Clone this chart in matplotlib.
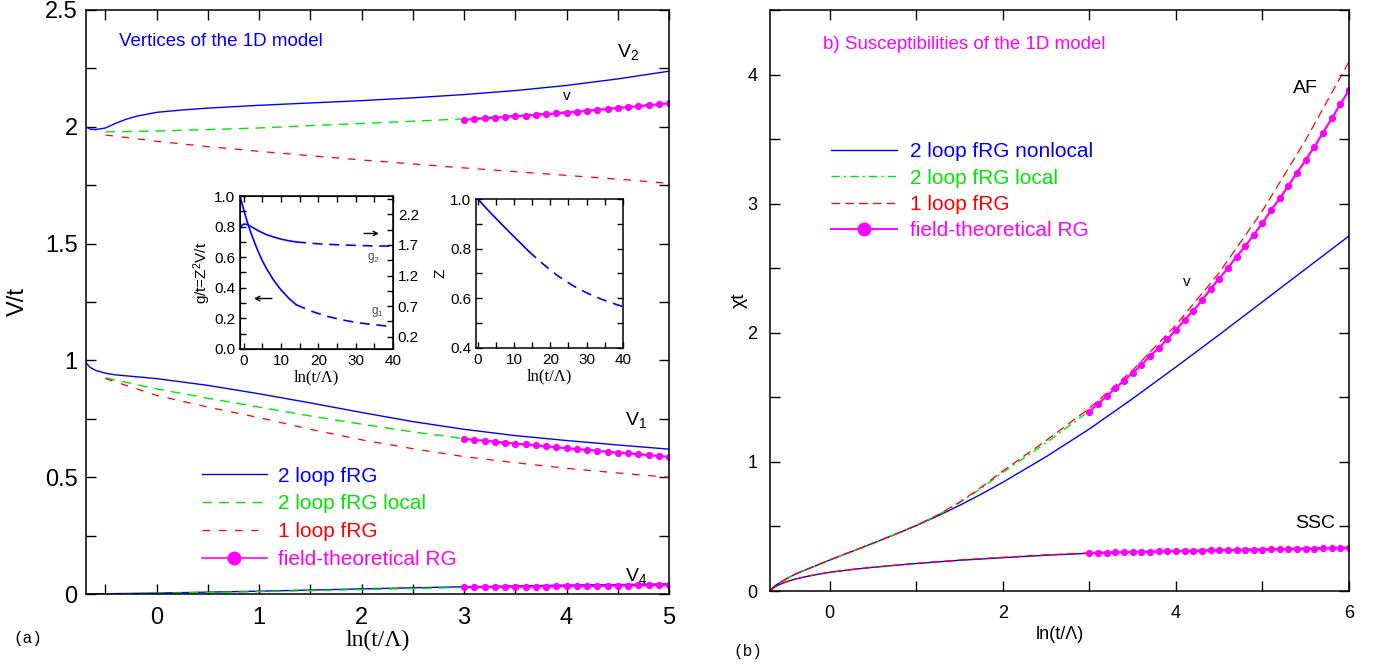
import matplotlib
matplotlib.use("Agg")
import matplotlib.pyplot as plt
from matplotlib.lines import Line2D
from matplotlib.ticker import MultipleLocator, FixedLocator, FormatStrFormatter

# ---------------- data: panel (a), vertices ----------------
x_v2_blue = [-0.69, -0.65, -0.6, -0.5, -0.4, -0.3, -0.2, 0.0, 0.25, 0.5, 1.0, 1.5, 2.0, 2.5, 3.0, 3.5, 4.0, 4.5, 5.0]
v2_blue = [2.00, 1.99, 1.988, 1.995, 2.015, 2.032, 2.045, 2.062, 2.072, 2.080, 2.092, 2.102, 2.112, 2.124, 2.138, 2.155, 2.177, 2.205, 2.238]
x_v2_dash = [-0.5, 0.0, 0.5, 1.0, 1.5, 2.0, 2.5, 3.0, 3.5, 4.0, 4.5, 5.0]
v2_green = [1.978, 1.982, 1.988, 1.995, 2.005, 2.014, 2.024, 2.034, 2.049, 2.064, 2.082, 2.102]
v2_red = [1.965, 1.938, 1.915, 1.895, 1.876, 1.858, 1.841, 1.824, 1.808, 1.792, 1.776, 1.758]

x_v1_blue = [-0.69, -0.65, -0.6, -0.5, -0.4, -0.2, 0.0, 0.5, 1.0, 1.5, 2.0, 2.5, 3.0, 3.5, 4.0, 4.5, 5.0]
v1_blue = [0.99, 0.97, 0.958, 0.945, 0.938, 0.930, 0.922, 0.893, 0.857, 0.818, 0.777, 0.738, 0.705, 0.678, 0.657, 0.638, 0.620]
x_v1_dash = [-0.5, 0.0, 0.5, 1.0, 1.5, 2.0, 2.5, 3.0, 3.5, 4.0, 4.5, 5.0]
v1_green = [0.925, 0.878, 0.838, 0.800, 0.762, 0.727, 0.694, 0.665, 0.645, 0.625, 0.606, 0.587]
v1_red = [0.922, 0.850, 0.800, 0.755, 0.705, 0.660, 0.622, 0.588, 0.562, 0.538, 0.518, 0.500]

x_v4_blue = [-0.69, 0.0, 1.0, 2.0, 3.0, 4.0, 5.0]
v4_blue = [0.0, 0.004, 0.012, 0.022, 0.031, 0.038, 0.043]
x_v4_dash = [-0.5, 0.0, 1.0, 2.0, 3.0]
v4_green = [0.0, 0.003, 0.010, 0.019, 0.028]
x_v4_red = [-0.5, 0.0, 1.0, 2.0, 3.0, 4.0, 5.0]
v4_red = [0.0, 0.0, 0.0, 0.0, 0.0, 0.0, 0.0]

# field-theoretical RG points (ln(t/Lambda) = 3.0 ... 5.0)
x_ft_a = [3.0, 3.1, 3.2, 3.3, 3.4, 3.5, 3.6, 3.7, 3.8, 3.9, 4.0,
          4.1, 4.2, 4.3, 4.4, 4.5, 4.6, 4.7, 4.8, 4.9, 5.0]
ft_v2 = [2.030, 2.033, 2.036, 2.039, 2.042, 2.045, 2.048, 2.051, 2.054, 2.057, 2.061,
         2.064, 2.068, 2.072, 2.076, 2.080, 2.084, 2.088, 2.092, 2.096, 2.101]
ft_v1 = [0.664, 0.660, 0.656, 0.652, 0.648, 0.644, 0.640, 0.636, 0.632, 0.628, 0.624,
         0.620, 0.617, 0.613, 0.609, 0.605, 0.602, 0.598, 0.595, 0.591, 0.587]
ft_v4 = [0.028, 0.029, 0.029, 0.030, 0.030, 0.031, 0.031, 0.032, 0.032, 0.033, 0.033,
         0.034, 0.034, 0.035, 0.035, 0.036, 0.036, 0.037, 0.037, 0.038, 0.038]

# inset: g1, g2, Z vs ln(t/Lambda)
x_g_solid = [-1.0, -0.5, 0.0, 0.5, 1.0, 1.5, 2.0, 3.0, 4.0, 5.0, 6.0, 8.0, 10.0, 12.0, 14.0]
g1_solid = [1.0, 0.955, 0.91, 0.868, 0.828, 0.79, 0.755, 0.69, 0.63, 0.577, 0.53, 0.45, 0.386, 0.334, 0.29]
g2_solid = [1.98, 2.02, 2.04, 2.04, 2.03, 2.015, 2.0, 1.965, 1.93, 1.90, 1.87, 1.83, 1.795, 1.77, 1.75]
x_g_dash = [14.0, 18.0, 22.0, 26.0, 30.0, 34.0, 38.0, 40.0]
g1_dash = [0.29, 0.248, 0.216, 0.192, 0.174, 0.161, 0.151, 0.147]
g2_dash = [1.75, 1.727, 1.712, 1.701, 1.693, 1.686, 1.681, 1.679]
x_z_solid = [0.0, 2.0, 4.0, 6.0, 8.0, 10.0, 12.0, 14.0]
z_solid = [1.0, 0.968, 0.937, 0.907, 0.877, 0.848, 0.819, 0.79]
x_z_dash = [14.0, 18.0, 22.0, 26.0, 30.0, 34.0, 38.0, 40.0]
z_dash = [0.79, 0.738, 0.691, 0.653, 0.622, 0.597, 0.576, 0.567]

# ---------------- data: panel (b), susceptibilities ----------------
x_af = [-0.69, -0.65, -0.6, -0.5, -0.4, -0.3, -0.15, 0.0, 0.25, 0.5, 0.75, 1.0, 1.25, 1.5, 1.75, 2.0,
        2.5, 3.0, 3.5, 4.0, 4.5, 5.0, 5.5, 6.0]
af_blue = [0.0, 0.03, 0.055, 0.095, 0.13, 0.158, 0.199, 0.240, 0.305, 0.37, 0.437, 0.507, 0.582, 0.663, 0.750, 0.842,
           1.040, 1.255, 1.490, 1.735, 1.985, 2.240, 2.495, 2.750]
af_red = [0.0, 0.03, 0.055, 0.095, 0.13, 0.158, 0.199, 0.240, 0.305, 0.37, 0.437, 0.508, 0.590, 0.688, 0.803, 0.930,
          1.165, 1.415, 1.710, 2.060, 2.465, 2.945, 3.495, 4.100]
x_af_green = [-0.69, -0.65, -0.6, -0.5, -0.4, -0.3, -0.15, 0.0, 0.25, 0.5, 0.75, 1.0, 1.25, 1.5, 1.75, 2.0, 2.5, 2.95]
af_green = [0.0, 0.03, 0.055, 0.095, 0.13, 0.158, 0.199, 0.240, 0.305, 0.37, 0.437, 0.508, 0.588, 0.684, 0.795, 0.918,
            1.148, 1.370]
x_ssc = [-0.69, -0.65, -0.6, -0.5, -0.4, -0.3, -0.15, 0.0, 0.25, 0.5, 1.0, 1.5, 2.0, 2.5, 3.0,
         3.5, 4.0, 4.5, 5.0, 5.5, 6.0]
ssc_blue = [0.0, 0.025, 0.045, 0.072, 0.092, 0.108, 0.128, 0.145, 0.166, 0.184, 0.213, 0.238, 0.258, 0.277, 0.292,
            0.300, 0.307, 0.314, 0.320, 0.326, 0.332]
ssc_red = [0.0, 0.025, 0.045, 0.072, 0.092, 0.108, 0.128, 0.145, 0.166, 0.184, 0.214, 0.240, 0.261, 0.280, 0.295,
           0.304, 0.312, 0.319, 0.326, 0.333, 0.340]

x_ft_b = [3.0, 3.1, 3.2, 3.3, 3.4, 3.5, 3.6, 3.7, 3.8, 3.9, 4.0, 4.1, 4.2, 4.3, 4.4, 4.5,
          4.6, 4.7, 4.8, 4.9, 5.0, 5.1, 5.2, 5.3, 5.4, 5.5, 5.6, 5.7, 5.8, 5.9, 6.0]
ft_af = [1.39, 1.45, 1.51, 1.57, 1.63, 1.69, 1.75, 1.82, 1.88, 1.95, 2.02, 2.10, 2.17, 2.25, 2.34, 2.42,
         2.50, 2.59, 2.67, 2.76, 2.85, 2.95, 3.04, 3.14, 3.24, 3.34, 3.44, 3.55, 3.66, 3.77, 3.88]
ft_ssc = [0.295, 0.297, 0.298, 0.300, 0.301, 0.302, 0.304, 0.305, 0.306, 0.308, 0.309, 0.310, 0.312, 0.313, 0.314, 0.315,
          0.316, 0.318, 0.319, 0.320, 0.321, 0.322, 0.323, 0.325, 0.326, 0.327, 0.328, 0.330, 0.331, 0.332, 0.333]

BLUE, GREEN, RED, MAG = "#0000ff", "#00e600", "#ff0000", "#ff00ff"
SANS = "Liberation Sans"
SERIF = "Liberation Serif"
plt.rcParams["font.family"] = SANS
plt.rcParams["mathtext.fontset"] = "custom"
plt.rcParams["mathtext.rm"] = SANS
plt.rcParams["mathtext.it"] = SANS + ":italic"


def style_ticks(ax, size, major=6, minor=3.5):
    ax.tick_params(which="both", direction="in", top=True, right=True, width=1.0, labelsize=size)
    ax.tick_params(which="major", length=major)
    ax.tick_params(which="minor", length=minor)
    for s in ax.spines.values():
        s.set_linewidth(1.1)


fig = plt.figure(figsize=(13.76, 6.66), dpi=100)

# ---------------- panel (a) ----------------
ax = fig.add_axes([0.0625, 0.1081, 0.4237, 0.8769])
gd = dict(color=GREEN, lw=1.0, dashes=(7, 5))
rd = dict(color=RED, lw=0.9, dashes=(6, 7))
bs = dict(color=BLUE, lw=1.0)
ms = dict(color=MAG, lw=1.6, marker="o", ms=4.2, mec=MAG, mfc=MAG)

ax.plot(x_v2_blue, v2_blue, **bs)
ax.plot(x_v2_dash, v2_green, **gd)
ax.plot(x_v2_dash, v2_red, **rd)
ax.plot(x_v1_blue, v1_blue, **bs)
ax.plot(x_v1_dash, v1_green, **gd)
ax.plot(x_v1_dash, v1_red, **rd)
ax.plot(x_v4_blue, v4_blue, **bs)
ax.plot(x_v4_dash, v4_green, **gd)
ax.plot(x_v4_red, v4_red, **rd)
ax.plot(x_ft_a, ft_v2, **ms)
ax.plot(x_ft_a, ft_v1, **ms)
ax.plot(x_ft_a, ft_v4, **ms)

ax.set_xlim(-0.69, 5.0)
ax.set_ylim(0, 2.5)
ax.xaxis.set_major_locator(MultipleLocator(1))
ax.xaxis.set_minor_locator(MultipleLocator(0.5))
ax.yaxis.set_major_locator(FixedLocator([0, 0.5, 1, 1.5, 2, 2.5]))
ax.yaxis.set_minor_locator(MultipleLocator(0.25))
ax.set_yticklabels(["0", "0.5", "1", "1.5", "2", "2.5"])
style_ticks(ax, 17, major=7, minor=7)
ax.tick_params(axis="x", pad=9)
ax.tick_params(axis="y", pad=6)
ax.set_xlabel("ln(t/\u039b)", family=SERIF, fontsize=17, labelpad=1)
ax.set_ylabel("V/t", fontsize=17)
ax.yaxis.set_label_coords(-0.098, 0.5)

ax.text(-0.37, 2.364, "Vertices of the 1D model", color=BLUE, fontsize=13.5, va="center")
ax.text(4.49, 2.30, "V$_2$", fontsize=14)
ax.text(4.57, 0.725, "V$_1$", fontsize=14)
ax.text(4.57, 0.055, "V$_4$", fontsize=14)
ax.text(4.0, 2.13, "v", fontsize=11, ha="center", va="center")

h_a = [Line2D([], [], **bs), Line2D([], [], **gd), Line2D([], [], **rd),
       Line2D([], [], color=MAG, lw=1.2, marker="o", ms=9)]
lg = ax.legend(h_a, ["2 loop fRG", "2 loop fRG local", "1 loop fRG", "field-theoretical RG"],
               loc="upper left", bbox_to_anchor=(0.199, 0.218), frameon=False, fontsize=15,
               handlelength=3.1, handletextpad=0.55, labelspacing=0.42, borderpad=0, borderaxespad=0)
for t, c in zip(lg.get_texts(), [BLUE, GREEN, RED, MAG]):
    t.set_color(c)

# inset: g1 / g2
ai = fig.add_axes([0.1744, 0.4760, 0.1112, 0.2297])
ai.plot(x_g_solid, g1_solid, color=BLUE, lw=1.2)
ai.plot(x_g_dash, g1_dash, color=BLUE, lw=1.2, dashes=(6, 4))
ai.set_xlim(-1, 40)
ai.set_ylim(0, 1.0)
ai.xaxis.set_major_locator(MultipleLocator(10))
ai.xaxis.set_minor_locator(MultipleLocator(5))
ai.yaxis.set_major_locator(MultipleLocator(0.2))
ai.yaxis.set_minor_locator(MultipleLocator(0.1))
ai.yaxis.set_major_formatter(FormatStrFormatter("%.1f"))
style_ticks(ai, 11, major=4, minor=4)
ai.tick_params(right=False, which="both")
ai.set_xlabel("ln(t/\u039b)", family=SERIF, fontsize=12, labelpad=1)
ai.set_ylabel("g/t=Z$^2$V/t", fontsize=11, labelpad=1)
ai2 = ai.twinx()
ai2.plot(x_g_solid, g2_solid, color=BLUE, lw=1.2)
ai2.plot(x_g_dash, g2_dash, color=BLUE, lw=1.2, dashes=(6, 4))
ai2.set_ylim(0, 2.5)
ai2.yaxis.set_major_locator(FixedLocator([0.2, 0.7, 1.2, 1.7, 2.2]))
ai2.yaxis.set_minor_locator(FixedLocator([0.45, 0.95, 1.45, 1.95, 2.45]))
ai2.yaxis.set_major_formatter(FormatStrFormatter("%.1f"))
ai2.tick_params(which="both", direction="in", length=4, width=1.0, labelsize=11)
ai.annotate("", xy=(2.0, 0.33), xytext=(8.3, 0.33),
            arrowprops=dict(arrowstyle="->", lw=1.0, color="black", mutation_scale=8))
ai.annotate("", xy=(37.0, 0.755), xytext=(31.5, 0.755),
            arrowprops=dict(arrowstyle="->", lw=1.0, color="black", mutation_scale=8))
ai.text(33.0, 0.58, "g$_2$", fontsize=8.5, color="0.3")
ai.text(34.0, 0.23, "g$_1$", fontsize=8.5, color="0.3")

# inset: Z
az = fig.add_axes([0.3459, 0.4775, 0.1068, 0.2237])
az.plot(x_z_solid, z_solid, color=BLUE, lw=1.2)
az.plot(x_z_dash, z_dash, color=BLUE, lw=1.2, dashes=(6, 4))
az.set_xlim(-0.5, 40)
az.set_ylim(0.4, 1.0)
az.xaxis.set_major_locator(MultipleLocator(10))
az.xaxis.set_minor_locator(MultipleLocator(5))
az.yaxis.set_major_locator(MultipleLocator(0.2))
az.yaxis.set_minor_locator(MultipleLocator(0.1))
az.yaxis.set_major_formatter(FormatStrFormatter("%.1f"))
style_ticks(az, 11, major=4, minor=4)
az.set_xlabel("ln(t/\u039b)", family=SERIF, fontsize=12, labelpad=1)
az.set_ylabel("Z", fontsize=11, labelpad=2)

fig.text(0.010, 0.035, "(a)", family="Liberation Mono", fontsize=11.5)

# ---------------- panel (b) ----------------
bx = fig.add_axes([0.5596, 0.1126, 0.4208, 0.8724])
gdd = dict(color=GREEN, lw=1.0, dashes=(6, 3, 1.5, 3))
rd2 = dict(color=RED, lw=0.9, dashes=(7, 4))
bx.plot(x_af, af_blue, **bs)
bx.plot(x_af_green, af_green, **gdd)
bx.plot(x_af, af_red, **rd2)
bx.plot(x_ssc, ssc_blue, **bs)
bx.plot(x_ssc, ssc_red, **rd2)
bx.plot(x_ft_b, ft_af, **ms)
bx.plot(x_ft_b, ft_ssc, **ms)

bx.set_xlim(-0.69, 6.0)
bx.set_ylim(0, 4.5)
bx.xaxis.set_major_locator(MultipleLocator(2))
bx.xaxis.set_minor_locator(MultipleLocator(1))
bx.yaxis.set_major_locator(MultipleLocator(1))
bx.yaxis.set_minor_locator(MultipleLocator(0.5))
style_ticks(bx, 13, major=7, minor=7)
bx.tick_params(axis="x", pad=10)
bx.tick_params(axis="y", pad=9)
bx.set_xlabel("ln(t/\u039b)", fontsize=13, labelpad=3)
bx.set_ylabel("\u03c7t", fontsize=14)
bx.yaxis.set_label_coords(-0.038, 0.5)

bx.text(-0.08, 4.233, "b) Susceptibilities of the 1D model", color=MAG, fontsize=13.5, va="center")
bx.text(5.35, 3.86, "AF", fontsize=14)
bx.text(5.38, 0.49, "SSC", fontsize=14)
bx.text(4.13, 2.39, "v", fontsize=11, ha="center", va="center")

h_b = [Line2D([], [], **bs), Line2D([], [], **gdd), Line2D([], [], **rd2),
       Line2D([], [], color=MAG, lw=1.4, marker="o", ms=9)]
lb = bx.legend(h_b, ["2 loop fRG nonlocal", "2 loop fRG local", "1 loop fRG", "field-theoretical RG"],
               loc="upper left", bbox_to_anchor=(0.105, 0.772), frameon=False, fontsize=15,
               handlelength=3.2, handletextpad=0.6, labelspacing=0.35, borderpad=0, borderaxespad=0)
for t, c in zip(lb.get_texts(), [BLUE, GREEN, RED, MAG]):
    t.set_color(c)

fig.text(0.533, 0.015, "(b)", family="Liberation Mono", fontsize=11.5)

fig.savefig("out.png", dpi=100)
